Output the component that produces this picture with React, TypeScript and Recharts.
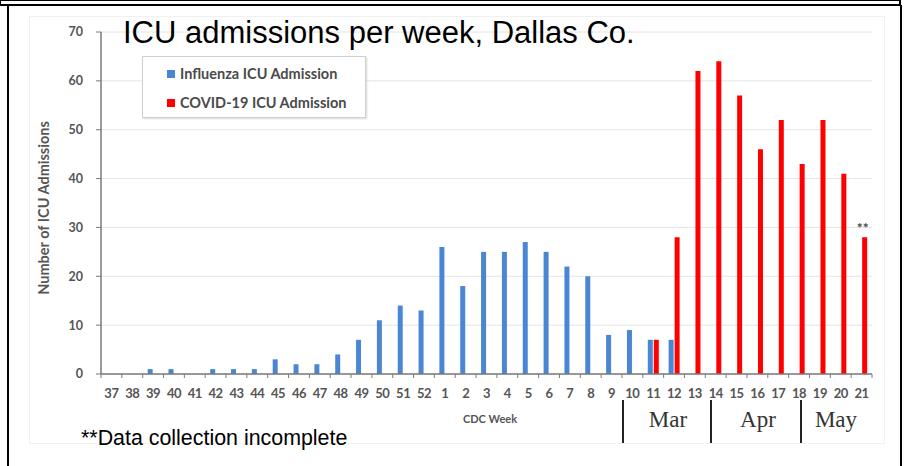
import { BarChart, Bar, XAxis, YAxis, CartesianGrid, Legend, LabelList } from 'recharts'

const WEEKS = [
  '37', '38', '39', '40', '41', '42', '43', '44', '45', '46', '47', '48', '49', '50', '51', '52',
  '1', '2', '3', '4', '5', '6', '7', '8', '9', '10', '11', '12', '13', '14', '15', '16', '17', '18', '19', '20', '21',
]

const FLU = [
  0, 0, 1, 1, 0, 1, 1, 1, 3, 2, 2, 4, 7, 11, 14, 13,
  26, 18, 25, 25, 27, 25, 22, 20, 8, 9, 7, 7, 0, 0, 0, 0, 0, 0, 0, 0, 0,
]

const COVID = [
  0, 0, 0, 0, 0, 0, 0, 0, 0, 0, 0, 0, 0, 0, 0, 0,
  0, 0, 0, 0, 0, 0, 0, 0, 0, 0, 7, 28, 62, 64, 57, 46, 52, 43, 52, 41, 28,
]

// "**" marks the incomplete last week
const NOTE_WEEKS = ['21']

const Y_TICKS = [0, 10, 20, 30, 40, 50, 60, 70]

const SERIES_ORDER = ['Influenza ICU Admission', 'COVID-19 ICU Admission']

const MONTHS = [
  { label: 'Mar', x: 668 },
  { label: 'Apr', x: 758 },
  { label: 'May', x: 836 },
]
const MONTH_DIVIDERS = [623, 711, 801]

const data = WEEKS.map((week, i) => ({
  week,
  flu: FLU[i],
  covid: COVID[i],
  note: NOTE_WEEKS.includes(week) ? '**' : '',
}))

const W = 906
const H = 466
const Y_AXIS_W = 101
const MARGIN = { top: 32, right: 34, left: 0, bottom: 62 }
const PLOT_W = W - Y_AXIS_W - MARGIN.left - MARGIN.right
const BAND = PLOT_W / WEEKS.length

const FLU_COLOR = '#4a86d4'
const COVID_COLOR = '#ff0000'
const AXIS_COLOR = '#7a7a7a'
const LABEL_FONT = 'Lato, "Open Sans", sans-serif'

const XTick = (props: any) => {
  const { x, y, payload, index } = props
  return (
    <g>
      {index === 0 && <line x1={x - BAND / 2} x2={x - BAND / 2} y1={y} y2={y + 4} stroke={AXIS_COLOR} />}
      <line x1={x + BAND / 2} x2={x + BAND / 2} y1={y} y2={y + 4} stroke={AXIS_COLOR} />
      <text
        x={x}
        y={y + 24}
        textAnchor="middle"
        fontFamily={LABEL_FONT}
        fontSize={13}
        fontWeight={700}
        fill="#555"
        letterSpacing={-0.5}
      >
        {payload.value}
      </text>
    </g>
  )
}

const YLabel = (props: any) => {
  const { viewBox } = props
  const cx = viewBox.x + 45
  const cy = viewBox.y + viewBox.height / 2 + 5
  return (
    <text
      x={cx}
      y={cy}
      transform={`rotate(-90 ${cx} ${cy})`}
      textAnchor="middle"
      dominantBaseline="middle"
      fontFamily={LABEL_FONT}
      fontSize={14.5}
      fontWeight={700}
      fill="#555"
    >
      Number of ICU Admissions
    </text>
  )
}

const LegendBox = (props: any) => {
  const items = [...(props.payload || [])].sort(
    (a: any, b: any) => SERIES_ORDER.indexOf(a.value) - SERIES_ORDER.indexOf(b.value),
  )
  return (
    <div
      style={{
        width: 224,
        height: 62,
        border: '1px solid #cfcfcf',
        boxShadow: '1px 1px 2px rgba(0,0,0,0.15)',
        background: '#fff',
        boxSizing: 'border-box',
        paddingTop: 2,
      }}
    >
      {items.map((entry: any) => (
        <div
          key={entry.value}
          style={{
            display: 'flex',
            alignItems: 'center',
            height: 29,
            paddingLeft: 24,
            fontFamily: LABEL_FONT,
            fontSize: 14.5,
            fontWeight: 700,
            color: '#4a4a4a',
            lineHeight: '16px',
            whiteSpace: 'nowrap',
          }}
        >
          <span style={{ width: 8, height: 8, background: entry.color, marginRight: 5, display: 'inline-block' }} />
          {entry.value}
        </div>
      ))}
    </div>
  )
}

const NoteLabel = (props: any) => {
  const { x, y, width, value } = props
  if (!value) return null
  return (
    <text
      x={x + width / 2 - 2}
      y={y - 4}
      textAnchor="middle"
      fontFamily={LABEL_FONT}
      fontSize={14}
      fontWeight={700}
      fill="#444"
    >
      {value}
    </text>
  )
}

export default function App() {
  return (
    <div style={{ position: 'absolute', left: 0, top: 0, width: W, height: H, background: '#fff', overflow: 'hidden' }}>
      {/* outer frames */}
      <div style={{ position: 'absolute', left: 0, top: 0, width: 898, height: 3, borderTop: '1px solid #000', borderBottom: '2px solid #000', borderLeft: '1px solid #000', borderRight: '2px solid #000' }} />
      <div style={{ position: 'absolute', left: 7, top: 5, width: 891, height: 470, borderLeft: '2px solid #000', borderTop: '1px solid #000', borderRight: '2px solid #000' }} />
      <div style={{ position: 'absolute', left: 29, top: 16, width: 854, height: 426, border: '1px solid #f1f1f1' }} />

      <div style={{ position: 'absolute', left: 0, top: 0 }}>
        <BarChart width={W} height={H} data={data} margin={MARGIN} barSize={5} barGap={1}>
          <CartesianGrid vertical={false} stroke="#e4e4e4" />
          <XAxis
            dataKey="week"
            interval={0}
            tickLine={false}
            tickSize={0}
            tickMargin={0}
            height={30}
            axisLine={{ stroke: AXIS_COLOR, strokeWidth: 1.5 }}
            tick={<XTick />}
          />
          <YAxis
            width={Y_AXIS_W}
            domain={[0, 70]}
            ticks={Y_TICKS}
            interval={0}
            tickSize={5}
            tickMargin={13}
            axisLine={{ stroke: AXIS_COLOR, strokeWidth: 1.5 }}
            tickLine={{ stroke: AXIS_COLOR }}
            tick={{ fontFamily: LABEL_FONT, fontSize: 12.5, fontWeight: 700, fill: '#555' }}
            label={{ content: <YLabel /> }}
          />
          <Legend
            layout="horizontal"
            verticalAlign="middle"
            align="center"
            content={<LegendBox />}
            wrapperStyle={{ left: 142, top: 56, width: 224, height: 62 }}
          />
          <Bar dataKey="flu" name="Influenza ICU Admission" fill={FLU_COLOR} isAnimationActive={false} />
          <Bar dataKey="covid" name="COVID-19 ICU Admission" fill={COVID_COLOR} isAnimationActive={false}>
            <LabelList dataKey="note" content={<NoteLabel />} />
          </Bar>
        </BarChart>
      </div>

      {/* annotations */}
      <div style={{ position: 'absolute', left: 123, top: 14, fontFamily: 'Arial, "Liberation Sans", sans-serif', fontSize: 31, color: '#000', whiteSpace: 'nowrap', lineHeight: '38px' }}>
        ICU admissions per week, Dallas Co.
      </div>
      <div style={{ position: 'absolute', left: 440, top: 412, width: 100, textAlign: 'center', fontFamily: LABEL_FONT, fontSize: 11, fontWeight: 700, color: '#555', lineHeight: '14px' }}>
        CDC Week
      </div>
      {MONTH_DIVIDERS.map((x) => (
        <div key={x} style={{ position: 'absolute', left: x - 1, top: 400, width: 2, height: 43, background: '#222' }} />
      ))}
      {MONTHS.map((m) => (
        <div
          key={m.label}
          style={{ position: 'absolute', left: m.x - 40, top: 406, width: 80, textAlign: 'center', fontFamily: '"Liberation Serif", "Times New Roman", serif', fontSize: 23, color: '#333', lineHeight: '28px' }}
        >
          {m.label}
        </div>
      ))}
      <div style={{ position: 'absolute', left: 81, top: 425, fontFamily: 'Arial, "Liberation Sans", sans-serif', fontSize: 21.4, color: '#000', whiteSpace: 'nowrap', lineHeight: '26px' }}>
        **Data collection incomplete
      </div>
    </div>
  )
}
